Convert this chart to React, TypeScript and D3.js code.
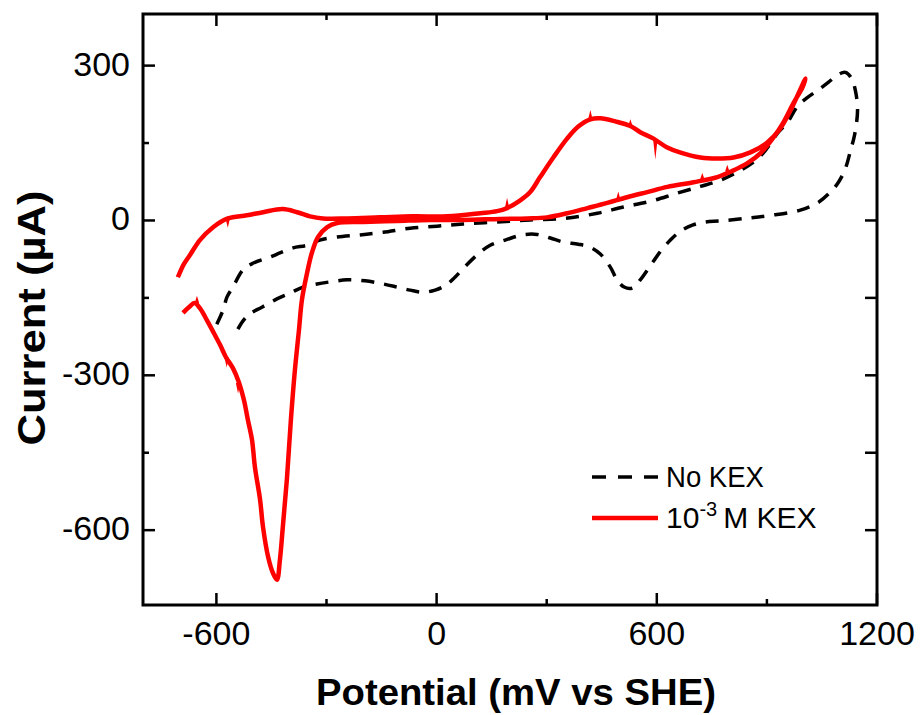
import React from "react";
import * as d3 from "d3";

const W = 922;
const H = 715;

const xDomain = [-800, 1200];
const yDomain = [-745, 400];
const xTicksMajor = [-600, 0, 600, 1200];
const xTicksMinor = [-300, 300, 900];
const yTicksMajor = [300, 0, -300, -600];
const yTicksMinor = [150, -150, -450];

const xTitle = "Potential (mV vs SHE)";
const yTitle = "Current (\u00B5A)";
const seriesNames = ["No KEX", "M KEX"];

// No KEX (dashed black) – scan loop
const noKexPotential = [
  -599, -582, -571, -555, -528, -501, -454, -427, -391, -353, -318, -271, -209, -146, -72, 1, 72, 165, 255,
  350, 438, 509, 582, 656, 719, 773, 828, 869, 896, 929, 956, 983, 1010, 1038, 1068, 1095, 1114, 1130, 1141,
  1147, 1139, 1128, 1114, 1095, 1073, 1040, 991, 910, 841, 773, 732, 697, 664, 637, 609, 582, 555, 533, 511,
  492, 473, 446, 419, 386, 345, 310, 274, 233, 187, 146, 110, 78, 50, 26, -4, -37, -72, -108, -146, -195,
  -244, -290, -326, -364, -400, -435, -476, -509, -528, -547,
];
const noKexCurrent = [
  -201, -174, -148, -129, -96, -83, -71, -63, -53, -48, -38, -32, -28, -23, -15, -11, -7, -3, 1,
  4, 14, 26, 37, 53, 66, 78, 97, 116, 136, 169, 190, 221, 238, 252, 268, 283, 287, 276, 252,
  214, 166, 136, 101, 74, 55, 35, 20, 10, 4, -1, -3, -9, -21, -38, -61, -88, -115, -131, -129,
  -115, -90, -65, -52, -46, -42, -34, -27, -28, -38, -48, -67, -89, -110, -125, -135, -139, -135, -129, -123, -117,
  -115, -119, -123, -129, -141, -152, -168, -181, -195, -218,
];

// 10^-3 M KEX (solid red)
const kexPotential = [
  -705, -689, -672, -645, -609, -569, -517, -473, -419, -380, -345, -310, -244, -154, -64, 29, 119, 165, 192,
  228, 255, 282, 318, 356, 386, 419, 446, 487, 528, 555, 590, 627, 663, 719, 765, 809, 855, 901, 936, 964, 986,
  1005, 997, 972, 945, 918, 882, 847, 809, 765, 700, 629, 574, 519, 465, 411, 356, 301, 247, 173, 72, -18,
  -108, -200, -271, -298, -323, -340, -353, -367, -375, -386, -397, -408, -419, -427, -435, -446, -459,
  -473, -481, -495, -503, -514, -525, -539, -555, -574, -590, -607, -626, -645, -659, -675, -691,
];
const kexCurrent = [
  -110, -85, -67, -38, -13, 4, 10, 16, 22, 16, 8, 4, 4, 6, 8, 8, 14, 18, 24,
  39, 55, 84, 122, 159, 182, 196, 198, 192, 183, 171, 159, 142, 132, 122, 120, 122, 132, 151, 178, 213, 246,
  275, 258, 227, 190, 161, 130, 111, 97, 84, 74, 65, 55, 45, 34, 24, 14, 6, 4, 3, 1, 1,
  -1, -3, -5, -13, -32, -63, -102, -154, -212, -289, -386, -502, -594, -658, -696, -683, -652,
  -594, -541, -478, -425, -387, -348, -313, -286, -265, -241, -218, -193, -170, -160, -168, -179,
];

// noise spikes on the red trace: potential, current at base, current at tip
const spikePotential = [-569, 192, 419, 528, 596, 495, 724, 792, -572, -541, -653];
const spikeBase = [4, 24, 196, 183, 157, 40, 80, 95, -265, -315, -160];
const spikeTip = [-14, 44, 214, 196, 118, 56, 92, 108, -285, -335, -146];

const LEFT = 143;
const RIGHT = 877;
const TOP = 14;
const BOTTOM = 605;

export default function App() {
  const x = d3.scaleLinear().domain(xDomain).range([LEFT, RIGHT]);
  const y = d3.scaleLinear().domain(yDomain).range([BOTTOM, TOP]);

  const line = d3
    .line<[number, number]>()
    .x((d) => x(d[0]))
    .y((d) => y(d[1]))
    .curve(d3.curveCatmullRom.alpha(0.5));

  const noKex: [number, number][] = noKexPotential.map((v, i) => [v, noKexCurrent[i]]);
  const kex: [number, number][] = kexPotential.map((v, i) => [v, kexCurrent[i]]);

  const spikePath = (i: number) => {
    const cx = x(spikePotential[i]);
    const by = y(spikeBase[i]);
    const ty = y(spikeTip[i]);
    return `M${cx - 2.2},${by}L${cx},${ty}L${cx + 2.2},${by}Z`;
  };

  const font = "'Liberation Sans', Arial, sans-serif";
  const majorLen = 12;
  const minorLen = 6;

  return (
    <svg
      width={W}
      height={H}
      style={{ position: "absolute", left: 0, top: 0, background: "#fff" }}
      fontFamily={font}
    >
      <rect x={0} y={0} width={W} height={H} fill="#fff" />
      <defs>
        <clipPath id="plotclip">
          <rect x={LEFT} y={TOP} width={RIGHT - LEFT} height={BOTTOM - TOP} />
        </clipPath>
      </defs>

      {/* data */}
      <g clipPath="url(#plotclip)">
        <path
          d={line(noKex) || ""}
          fill="none"
          stroke="#000"
          strokeWidth={3.5}
          strokeDasharray="13,10"
        />
        <path
          d={line(kex) || ""}
          fill="none"
          stroke="#ff0000"
          strokeWidth={4.5}
          strokeLinejoin="round"
        />
        {spikePotential.map((v, i) => (
          <path key={"sp" + i} d={spikePath(i)} fill="#ff0000" stroke="none" />
        ))}
      </g>

      {/* ticks */}
      <g stroke="#000" strokeWidth={2.5}>
        {xTicksMajor.map((t) => (
          <g key={"xm" + t}>
            <line x1={x(t)} x2={x(t)} y1={BOTTOM} y2={BOTTOM - majorLen} />
            <line x1={x(t)} x2={x(t)} y1={TOP} y2={TOP + majorLen} />
          </g>
        ))}
        {xTicksMinor.map((t) => (
          <g key={"xn" + t}>
            <line x1={x(t)} x2={x(t)} y1={BOTTOM} y2={BOTTOM - minorLen} />
            <line x1={x(t)} x2={x(t)} y1={TOP} y2={TOP + minorLen} />
          </g>
        ))}
        {yTicksMajor.map((t) => (
          <g key={"ym" + t}>
            <line x1={LEFT} x2={LEFT + majorLen} y1={y(t)} y2={y(t)} />
            <line x1={RIGHT} x2={RIGHT - majorLen} y1={y(t)} y2={y(t)} />
          </g>
        ))}
        {yTicksMinor.map((t) => (
          <g key={"yn" + t}>
            <line x1={LEFT} x2={LEFT + minorLen} y1={y(t)} y2={y(t)} />
            <line x1={RIGHT} x2={RIGHT - majorLen} y1={y(t)} y2={y(t)} />
          </g>
        ))}
      </g>

      {/* frame */}
      <rect
        x={LEFT}
        y={TOP}
        width={RIGHT - LEFT}
        height={BOTTOM - TOP}
        fill="none"
        stroke="#000"
        strokeWidth={3}
      />

      {/* tick labels */}
      <g fontSize={34} fill="#000">
        {xTicksMajor.map((t) => (
          <text key={"xl" + t} x={x(t)} y={645} textAnchor="middle">
            {t}
          </text>
        ))}
        {yTicksMajor.map((t) => (
          <text key={"yl" + t} x={130} y={y(t) + 10} textAnchor="end">
            {t}
          </text>
        ))}
      </g>

      {/* axis titles */}
      <text
        x={516}
        y={705}
        textAnchor="middle"
        fontSize={36}
        fontWeight="bold"
        textLength={400}
        lengthAdjust="spacingAndGlyphs"
      >
        {xTitle}
      </text>
      <text
        transform={`translate(45,318) rotate(-90)`}
        textAnchor="middle"
        fontSize={38}
        fontWeight="bold"
        textLength={255}
        lengthAdjust="spacingAndGlyphs"
      >
        {yTitle}
      </text>

      {/* legend */}
      <g>
        <line x1={592} x2={658} y1={477} y2={477} stroke="#000" strokeWidth={3.5} strokeDasharray="14,12" />
        <text x={666} y={487} fontSize={30} textLength={98} lengthAdjust="spacingAndGlyphs">
          {seriesNames[0]}
        </text>
        <line x1={592} x2={658} y1={518} y2={518} stroke="#ff0000" strokeWidth={4.5} />
        <text x={666} y={528} fontSize={30}>
          10
          <tspan dy={-12} fontSize={20}>
            -3
          </tspan>
          <tspan dy={12} dx={6}>
            {seriesNames[1]}
          </tspan>
        </text>
      </g>
    </svg>
  );
}
